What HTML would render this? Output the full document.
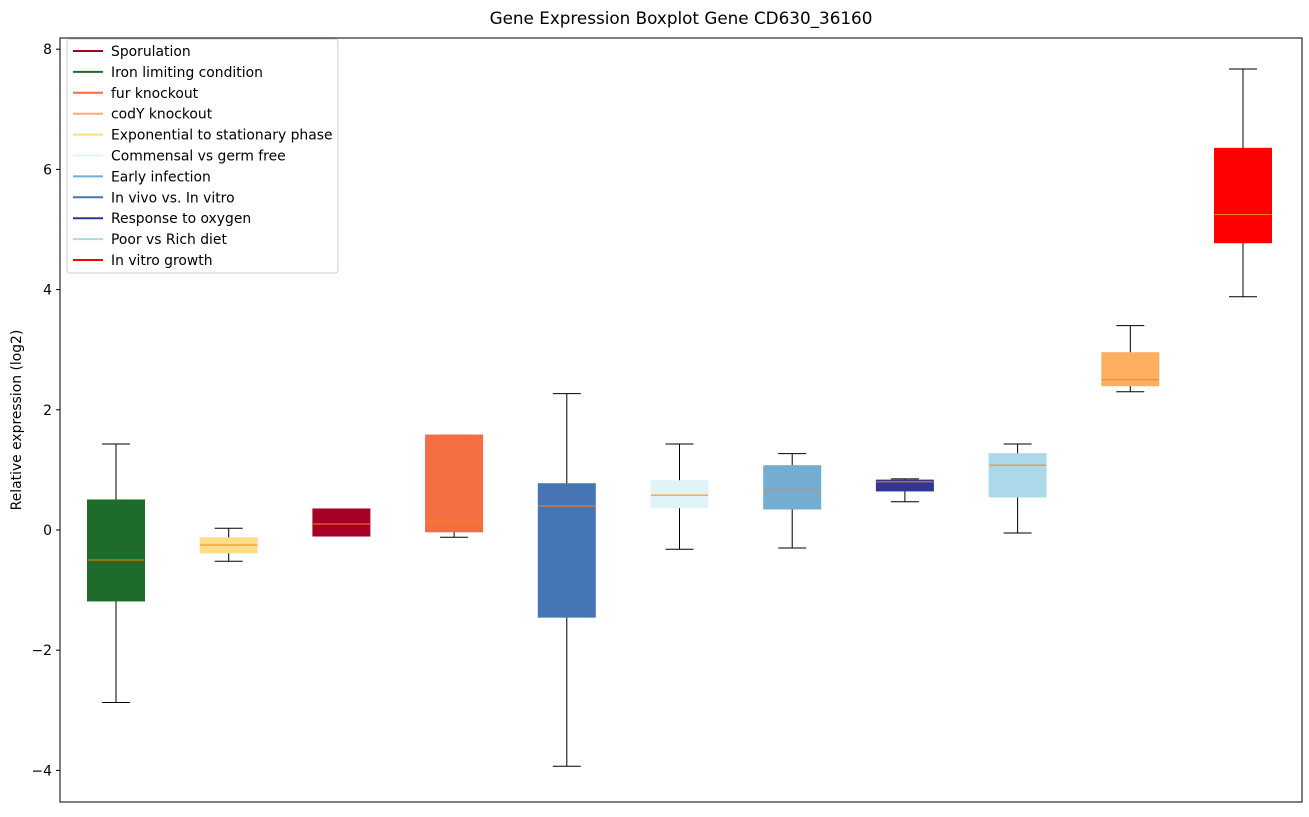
<!DOCTYPE html>
<html><head><meta charset="utf-8">
<style>
body{margin:0;background:#fff;font-family:"Liberation Sans","DejaVu Sans",sans-serif;}
svg text{font-family:"DejaVu Sans","Liberation Sans",sans-serif;}
</style></head>
<body>
<svg id="chart" width="1309" height="812" xmlns="http://www.w3.org/2000/svg">
<rect width="1309" height="812" fill="#fff"/>
<text x="681" y="24" text-anchor="middle" font-size="16.8">Gene Expression Boxplot Gene CD630_36160</text>
<text transform="translate(21,420) rotate(-90)" text-anchor="middle" font-size="13.9">Relative expression (log2)</text>
<g id="yaxis"></g>
<g id="boxes"></g>
<rect x="60" y="38" width="1242" height="764" fill="none" stroke="#000" stroke-width="1"/>
<g id="legend"></g>
</svg>
<script>
const categories=["Iron limiting condition","Exponential to stationary phase","Sporulation","fur knockout","In vivo vs. In vitro","Commensal vs germ free","Early infection","Response to oxygen","Poor vs Rich diet","codY knockout","In vitro growth"];
const colors=["#1f6b2b","#fddc8a","#a50026","#f46d43","#4575b4","#e0f3f8","#74add1","#313695","#abd9e9","#fdae61","#ff0000"];
const whiskerLow=[-2.87,-0.52,-0.1,-0.12,-3.93,-0.32,-0.3,0.47,-0.05,2.3,3.88];
const q1=[-1.18,-0.38,-0.1,-0.03,-1.45,0.37,0.35,0.65,0.55,2.4,4.78];
const medians=[-0.5,-0.25,0.1,0.15,0.4,0.58,0.67,0.8,1.08,2.5,5.25];
const q3=[0.5,-0.13,0.35,1.58,0.77,0.82,1.07,0.83,1.27,2.95,6.35];
const whiskerHigh=[1.43,0.03,0.35,1.58,2.27,1.43,1.27,0.85,1.43,3.4,7.67];
const yTicks=[-4,-2,0,2,4,6,8];
const legendLabels=["Sporulation","Iron limiting condition","fur knockout","codY knockout","Exponential to stationary phase","Commensal vs germ free","Early infection","In vivo vs. In vitro","Response to oxygen","Poor vs Rich diet","In vitro growth"];
const legendColors=["#a50026","#1f6b2b","#f46d43","#fdae61","#fddc8a","#e0f3f8","#74add1","#4575b4","#313695","#abd9e9","#ff0000"];

const NS="http://www.w3.org/2000/svg";
function y(v){return 530-60.1*v;}
function x(i){return 116+i*112.7;}
function mk(tag,attrs,parent){const e=document.createElementNS(NS,tag);for(const k in attrs)e.setAttribute(k,attrs[k]);parent.appendChild(e);return e;}
const ya=document.getElementById('yaxis');
yTicks.forEach(t=>{
  const l=mk('line',{x1:56,x2:60,y1:y(t),y2:y(t),stroke:'#000'},ya);
  
  
  const tx=mk('text',{x:52,y:y(t)+5,'text-anchor':'end','font-size':13.9},ya);
  tx.textContent=(t<0?'\u2212'+(-t):t);
  
  
});
const bg=document.getElementById('boxes');
const hw=28.5,cw=14;
categories.forEach((c,i)=>{
  const g=mk('g',{},bg);
  
  
  const cx=x(i);
  mk('line',{x1:cx,x2:cx,y1:y(whiskerHigh[i]),y2:y(q3[i]),stroke:'#000'},g);
  mk('line',{x1:cx,x2:cx,y1:y(q1[i]),y2:y(whiskerLow[i]),stroke:'#000'},g);
  mk('line',{x1:cx-cw,x2:cx+cw,y1:y(whiskerHigh[i]),y2:y(whiskerHigh[i]),stroke:'#000'},g);
  mk('line',{x1:cx-cw,x2:cx+cw,y1:y(whiskerLow[i]),y2:y(whiskerLow[i]),stroke:'#000'},g);
  mk('rect',{x:cx-hw,y:y(q3[i]),width:2*hw,height:Math.max(1,y(q1[i])-y(q3[i])),fill:colors[i],stroke:colors[i]},g);
  mk('line',{x1:cx-hw,x2:cx+hw,y1:y(medians[i]),y2:y(medians[i]),stroke:'#ff7f0e'},g);
});
const lg=document.getElementById('legend');
mk('rect',{x:67,y:39,width:271,height:234,fill:'#fff','fill-opacity':0.8,stroke:'#ccc',rx:3},lg);
legendLabels.forEach((l,i)=>{
  const g=mk('g',{},lg);
  
  
  const yy=51+i*20.9;
  mk('line',{x1:73,x2:103,y1:yy,y2:yy,stroke:legendColors[i],'stroke-width':2},g);
  const t=mk('text',{x:111,y:yy+5,'font-size':13.9},g);
  t.textContent=l;
});
</script>
</body></html>
